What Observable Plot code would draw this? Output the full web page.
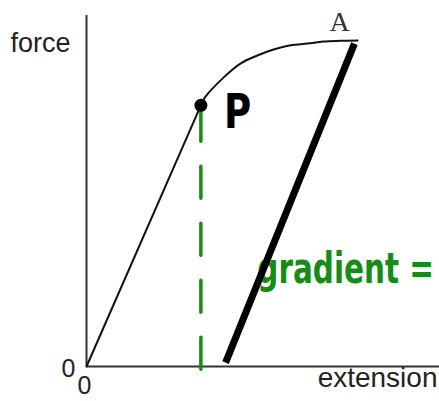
<!DOCTYPE html>
<html>
<head>
<meta charset="utf-8">
<script src="https://cdn.jsdelivr.net/npm/d3@7"></script>
<script src="https://cdn.jsdelivr.net/npm/@observablehq/plot@0.6"></script>
<style>
  html, body { margin: 0; padding: 0; background: #fff; }
  #chart svg { display: block; }
</style>
</head>
<body>
<div id="chart"></div>
<script>
// Force–extension curve: linear (Hooke) region up to the limit P,
// plastic region curving over to A, then unloading along a parallel line.
const linearX = [0, 3.24];
const linearY = [0, 7.44];

const plasticX = [3.24, 3.35, 3.88, 4.36, 4.84, 5.30, 5.78, 6.26, 6.71, 7.20, 7.68];
const plasticY = [7.44, 7.66, 8.23, 8.63, 8.86, 9.03, 9.15, 9.20, 9.26, 9.28, 9.29];

const limitX = [3.24];
const limitY = [7.44];

const unloadX = [3.94, 7.59];
const unloadY = [0.11, 9.20];

// dashed drop from P to the extension axis (drawn bottom-up)
const dropX = [3.24, 3.24];
const dropY = [-0.08, 7.24];

const noteText = ["P", "A", "gradient ="];
const noteX = [4.28, 7.17, 4.84];
const noteY = [7.24, 9.80, 2.76];

const tickZero = [0];
const axisNames = ["force", "extension"];

const pts = (xs, ys) => xs.map((x, i) => ({x, y: ys[i]}));
const notes = noteText.map((t, i) => ({t, x: noteX[i], y: noteY[i]}));

const green = "#168c16";
const ink = "#333";

const chart = Plot.plot({
  width: 439,
  height: 401,
  marginLeft: 86,
  marginRight: 0,
  marginTop: 15,
  marginBottom: 35,
  x: {domain: [0, 10], axis: null},
  y: {domain: [0, 10], axis: null},
  style: {background: "#fff", fontFamily: "Liberation Sans, Arial, sans-serif"},
  marks: [
    Plot.ruleY([0], {stroke: ink, strokeWidth: 2}),
    Plot.ruleX([0], {stroke: ink, strokeWidth: 2}),
    Plot.axisX(tickZero, {tickSize: 0, tickPadding: 10, fontSize: 25, fill: "#222", dx: -2, label: null}),
    Plot.axisY(tickZero, {tickSize: 0, tickPadding: 11, fontSize: 25, fill: "#222", dy: 2, label: null}),
    Plot.text([axisNames[0]], {frameAnchor: "top-left", dx: -76, dy: 17, textAnchor: "start", fontSize: 27, fill: "#222"}),
    Plot.text([axisNames[1]], {frameAnchor: "bottom-right", dx: -2, dy: 20, textAnchor: "end", fontSize: 28, fill: "#222"}),
    Plot.line(pts(linearX, linearY), {x: "x", y: "y", stroke: "#111", strokeWidth: 2}),
    Plot.line(pts(plasticX, plasticY), {x: "x", y: "y", stroke: "#111", strokeWidth: 2, curve: "catmull-rom"}),
    Plot.line(pts(dropX, dropY), {x: "x", y: "y", stroke: green, strokeWidth: 3.5, strokeDasharray: "32,25", strokeLinecap: "round"}),
    Plot.text(notes.slice(2), {x: "x", y: "y", text: "t", textAnchor: "start", fontSize: 42, fontWeight: "bold", fontFamily: "DejaVu Sans Condensed, DejaVu Sans, sans-serif", fill: green, className: "hand-note"}),
    Plot.line(pts(unloadX, unloadY), {x: "x", y: "y", stroke: "#000", strokeWidth: 7, strokeLinecap: "butt"}),
    Plot.dot(pts(limitX, limitY), {x: "x", y: "y", r: 6.5, fill: "#000"}),
    Plot.text(notes.slice(0, 1), {x: "x", y: "y", text: "t", fontSize: 48, fontWeight: "bold", fontFamily: "DejaVu Sans Condensed, DejaVu Sans, sans-serif", fill: "#000", className: "hand-p"}),
    Plot.text(notes.slice(1, 2), {x: "x", y: "y", text: "t", fontSize: 28, fontFamily: "Liberation Serif, Times New Roman, serif", fill: ink})
  ]
});

// narrow the handwritten labels horizontally around their anchor point
function squeeze(selector, k) {
  chart.querySelectorAll(selector + " text").forEach(t => {
    const tr = t.getAttribute("transform");
    if (tr) {
      t.setAttribute("transform", `${tr} scale(${k},1)`);
    } else {
      const x = +t.getAttribute("x") || 0;
      t.setAttribute("transform", `translate(${x},0) scale(${k},1) translate(${-x},0)`);
    }
  });
}
squeeze(".hand-note", 0.78);
squeeze(".hand-p", 0.86);

document.getElementById("chart").appendChild(chart);
</script>
</body>
</html>
